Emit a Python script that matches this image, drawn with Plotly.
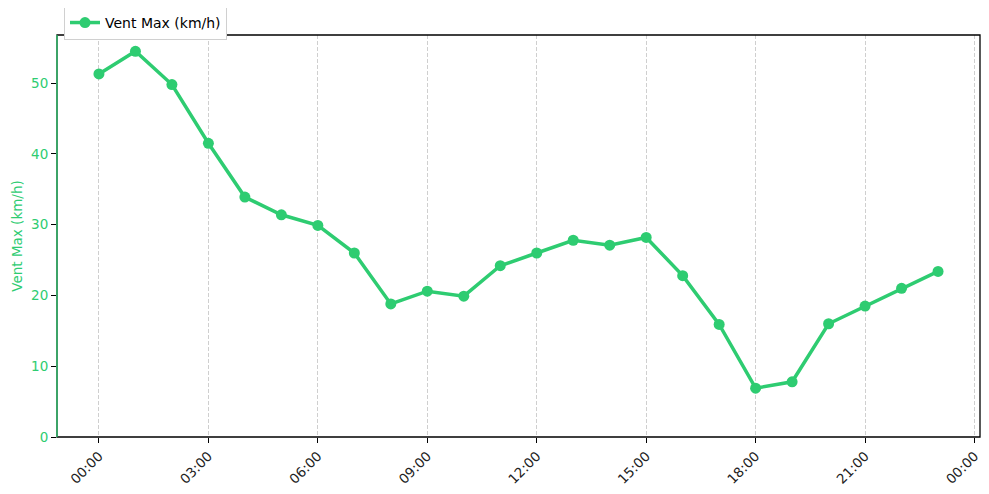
import plotly.graph_objects as go

GREEN = "#2ecc71"

hours = ["2024-01-01 %02d:00" % h for h in range(24)]
vent_max = [51.3, 54.5, 49.8, 41.5, 33.9, 31.4, 29.9, 26.0, 18.8, 20.6, 19.9, 24.2,
            26.0, 27.8, 27.1, 28.2, 22.8, 15.9, 6.9, 7.8, 16.0, 18.5, 21.0, 23.4]
y_ticks = [0, 10, 20, 30, 40, 50]

fig = go.Figure()
fig.add_trace(go.Scatter(
    x=hours, y=vent_max, mode="lines+markers", name="Vent Max (km/h)",
    line=dict(color=GREEN, width=3.5),
    marker=dict(color=GREEN, size=11),
))

# page body has an 8px margin, so the figure is a bit smaller than the window
fig.update_layout(
    width=981, height=486,
    paper_bgcolor="white", plot_bgcolor="white",
    font=dict(family="DejaVu Sans", size=13.5, color="black"),
    margin=dict(l=49, r=9, t=27, b=57, autoexpand=False),
    showlegend=True,
    legend=dict(x=0.0076, y=1.03, xanchor="left", yanchor="middle",
                bgcolor="white", bordercolor="#d0d0d0", borderwidth=1,
                font=dict(size=14), itemwidth=30),
    xaxis=dict(
        type="date", automargin=False,
        range=["2023-12-31 22:51", "2024-01-02 00:09"],
        dtick=3 * 3600 * 1000, tick0="2024-01-01 00:00", tickformat="%H:%M",
        tickangle=-45, ticks="outside", ticklen=5, tickcolor="black",
        showgrid=True, gridcolor="#cfcfcf", griddash="4px,2px", gridwidth=1,
        showline=False, zeroline=False,
        tickfont=dict(color="#222222", size=13.5),
    ),
    yaxis=dict(
        range=[0, 56.8], tickvals=y_ticks, automargin=False,
        ticks="outside", ticklen=5, tickcolor="black",
        showgrid=False, zeroline=False, showline=False,
        tickfont=dict(color=GREEN, size=13.5),
        title=dict(text="Vent Max (km/h)", font=dict(color=GREEN, size=13.5), standoff=5),
    ),
    shapes=[
        dict(type="rect", xref="paper", yref="paper", x0=0, x1=1, y0=0, y1=1,
             line=dict(color="black", width=1.3), layer="above"),
        dict(type="line", xref="paper", yref="paper", x0=0, x1=0, y0=0, y1=1,
             line=dict(color=GREEN, width=1.3), layer="above"),
    ],
)

fig.write_html("out.html")
